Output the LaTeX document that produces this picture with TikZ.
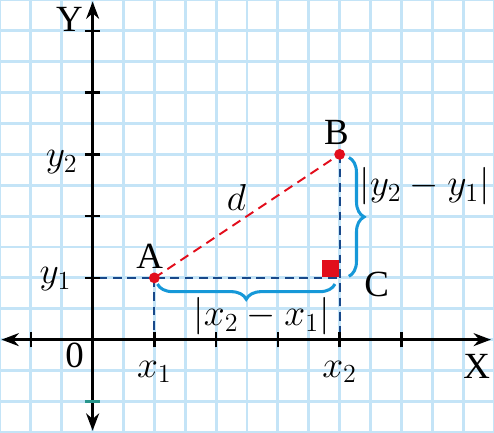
\documentclass[tikz,border=0pt]{standalone}
\usepackage{amsmath}
\usepackage{fontspec}
\setmainfont{Liberation Serif}
\usepackage{tikz}
\usetikzlibrary{arrows.meta}
\usetikzlibrary{decorations.pathreplacing}
\definecolor{gridblue}{RGB}{196,228,247}
\definecolor{bracblue}{RGB}{22,152,216}
\definecolor{ptred}{RGB}{226,14,28}
\definecolor{dashblue}{RGB}{24,72,138}
\definecolor{tealtick}{RGB}{40,150,140}
\newcommand{\lblfont}{\fontsize{17}{20}\selectfont}

\begin{document}
\begin{tikzpicture}[x=0.5cm,y=0.5cm,
  every node/.style={font=\lblfont},
  axis/.style={line width=1.1pt,arrows={Stealth[length=8pt,width=6pt]-Stealth[length=8pt,width=6pt]}},
  axtick/.style={line width=1.1pt},
  bluedash/.style={dashblue,line width=0.9pt,dash pattern=on 4pt off 2.6pt},
  reddash/.style={ptred,line width=0.9pt,dash pattern=on 4.4pt off 2.8pt},
  bracket/.style={bracblue,line width=1.4pt,decorate,decoration={brace,amplitude=7pt}},
  ptdot/.style={circle,fill=ptred,inner sep=0pt,minimum size=5pt}]
\useasboundingbox (-3,-3) rectangle (13,11);
\clip (-3,-3) rectangle (13,11);
\draw[gridblue,line width=1.3pt,step=0.5cm] (-3,-3) grid (13,11);

\coordinate (O) at (0,0);
\coordinate (Y1) at (0,2);
\coordinate (X1) at (2,0);
\coordinate (X2) at (8,0);
\coordinate (C) at (8,2);

\draw[bluedash] (0.2,2) -- (C);
\draw[bluedash] (2,2) -- (X1);
\draw[bluedash] (8,6) -- (X2);
\draw[reddash] (2,2) -- (8,6);

\draw[axis] (-2.95,0) -- (12.9,0);
\draw[axis] (0,-2.95) -- (0,10.95);
\foreach \t in {-2,2,4,6,8,10}
  \draw[axtick] (\t,-0.25) -- (\t,0.25);
\foreach \t in {2,4,6,8,10}
  \draw[axtick] (-0.25,\t) -- (0.25,\t);
\draw[axtick,tealtick] (-0.25,-2) -- (0.25,-2);

\node[ptdot] (A) at (2,2) {};
\node[ptdot] (B) at (8,6) {};
\node[fill=ptred,inner sep=0pt,minimum size=0.28cm,anchor=south east] (Csq) at (C) {};

\coordinate (hb1) at (7.85,1.8);
\coordinate (hb2) at (2.1,1.8);
\coordinate (vb1) at (8.3,5.9);
\coordinate (vb2) at (8.3,2.05);
\draw[bracket] (hb1) -- (hb2);
\draw[bracket] (vb1) -- (vb2);

\node (ylab) at (-0.75,10.36) {Y};
\node (xlab) at (12.44,-0.87) {X};
\node (orig) at (-0.58,-0.5) {0};
\node (xone) at (2,-1.05) {$x_1$};
\node (xtwo) at (8,-1.05) {$x_2$};
\node (yone) at (-1.2,1.95) {$y_1$};
\node (ytwo) at (-1.0,5.75) {$y_2$};
\node (alab) at (1.85,2.7) {A};
\node (blab) at (7.9,6.7) {B};
\node (clab) at (9.2,1.8) {C};
\node (dlab) at (4.66,4.6) {$d$};
\node (dx) at (5.47,0.75) {$|x_2-x_1|$};
\node (dy) at (10.75,4.96) {$|y_2-y_1|$};
\end{tikzpicture}
\end{document}
